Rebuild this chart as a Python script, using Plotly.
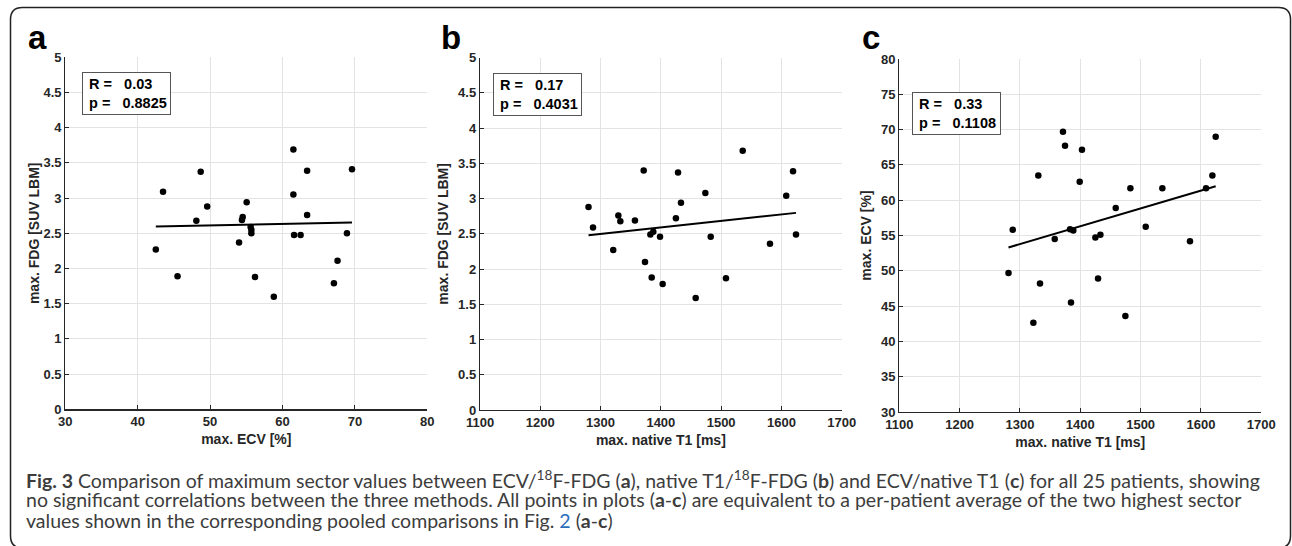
import numpy as np
import plotly.graph_objects as go

W, H = 1292, 546

# ---------------- data ----------------
ecv_a = [42.5, 43.5, 45.5, 48.7, 48.1, 49.6, 55.05, 54.5, 54.4, 54.0, 55.6, 55.7, 55.7,
         56.2, 58.8, 61.5, 61.5, 63.4, 63.4, 61.6, 62.5, 69.6, 68.9, 67.6, 67.1]
fdg_a = [2.27, 3.09, 1.89, 3.375, 2.68, 2.88, 2.94, 2.73, 2.69, 2.37, 2.59, 2.55, 2.50,
         1.88, 1.60, 3.69, 3.05, 3.39, 2.76, 2.475, 2.475, 3.41, 2.50, 2.11, 1.79]

t1_b = [1280, 1287.5, 1321, 1329.5, 1332.8, 1357, 1371.5, 1373.7, 1382.6, 1387.5, 1398.6,
        1384.8, 1403, 1428.5, 1425, 1433.4, 1457.8, 1473.8, 1482.7, 1508, 1535.8, 1581,
        1608, 1619.3, 1624.2]
fdg_b = [2.88, 2.59, 2.27, 2.76, 2.68, 2.69, 3.40, 2.10, 2.49, 2.53, 2.46, 1.88, 1.79,
         3.37, 2.72, 2.94, 1.59, 3.08, 2.46, 1.87, 3.68, 2.36, 3.04, 3.39, 2.49]

t1_c = [1281, 1288, 1330.4, 1357.6, 1371.3, 1374.7, 1383, 1388.4, 1399, 1402.8, 1425,
        1433.3, 1429.4, 1458.7, 1483, 1508.4, 1536, 1581.8, 1608.4, 1618.9, 1624.4,
        1322.2, 1333.2, 1384.6, 1474.7]
ecv_c = [49.7, 55.8, 63.5, 54.5, 69.7, 67.7, 55.9, 55.7, 62.6, 67.15, 54.7, 55.1, 48.9,
         58.9, 61.7, 56.25, 61.7, 54.2, 61.7, 63.5, 69.0, 42.65, 48.2, 45.5, 43.6]

panel_labels = ["a", "b", "c"]
stats_text = [("0.03", "0.8825"), ("0.17", "0.4031"), ("0.33", "0.1108")]
x_titles = ["max. ECV [%]", "max. native T1 [ms]", "max. native T1 [ms]"]
y_titles = ["max. FDG [SUV LBM]", "max. FDG [SUV LBM]", "max. ECV [%]"]
x_ranges = [[30, 80], [1100, 1700], [1100, 1700]]
y_ranges = [[0, 5], [0, 5], [30, 80]]
x_dticks = [10, 100, 100]
y_dticks = [0.5, 0.5, 5]

caption_lines = [
    "<b>Fig. 3</b> Comparison of maximum sector values between ECV/<sup>18</sup>F-FDG (<b>a</b>), "
    "native T1/<sup>18</sup>F-FDG (<b>b</b>) and ECV/native T1 (<b>c</b>) for all 25 patients, showing",
    "no significant correlations between the three methods. All points in plots (<b>a</b>-<b>c</b>) "
    "are equivalent to a per-patient average of the two highest sector",
    "values shown in the corresponding pooled comparisons in Fig. "
    "<span style='color:#2a6ebb'>2</span> (<b>a</b>-<b>c</b>)",
]

# ---------------- layout geometry (pixels) ----------------
plot_px = [  # x0, x1, ytop, ybottom
    (65.3, 427.3, 57.3, 409.3),
    (480.0, 841.7, 57.7, 410.0),
    (899.3, 1261.3, 59.0, 412.0),
]
box_px = [(81.7, 72.3), (493.0, 73.0), (912.0, 92.0)]
label_px = [(26, 50), (439, 50), (860, 50)]
ytitle_standoff = [0, 6, 6]

def px(x):
    return x / W

def py(y):
    return 1 - y / H

fig = go.Figure()
datasets = [(ecv_a, fdg_a), (t1_b, fdg_b), (t1_c, ecv_c)]

AX = "#262626"
GRID = "#e3e3e3"
NB = "\u00a0"

for i, (xs, ys) in enumerate(datasets):
    xa = "x" if i == 0 else f"x{i+1}"
    ya = "y" if i == 0 else f"y{i+1}"
    fig.add_trace(go.Scatter(x=xs, y=ys, mode="markers", xaxis=xa, yaxis=ya,
                             marker=dict(color="black", size=6.5), showlegend=False,
                             hoverinfo="skip"))
    k, b = np.polyfit(np.array(xs, float), np.array(ys, float), 1)
    xl = np.array([min(xs), max(xs)], float)
    fig.add_trace(go.Scatter(x=xl, y=k * xl + b, mode="lines", xaxis=xa, yaxis=ya,
                             line=dict(color="black", width=2), showlegend=False,
                             hoverinfo="skip"))
    x0, x1, yt, yb = plot_px[i]
    axis_common = dict(showgrid=True, gridcolor=GRID, gridwidth=1, zeroline=False,
                       showline=True, linecolor=AX, linewidth=1.2, ticks="inside",
                       ticklen=4, tickcolor=AX, mirror=False, automargin=False,
                       tickfont=dict(family="Liberation Sans, Arial", size=13,
                                     color=AX, weight="bold"),
                       title_font=dict(family="Liberation Sans, Arial", size=14,
                                       color=AX, weight="bold"))
    xkey = "xaxis" if i == 0 else f"xaxis{i+1}"
    ykey = "yaxis" if i == 0 else f"yaxis{i+1}"
    fig.update_layout(**{
        xkey: dict(domain=[px(x0), px(x1)], range=x_ranges[i], dtick=x_dticks[i],
                   anchor=ya, title=dict(text=x_titles[i], standoff=6), **axis_common),
        ykey: dict(domain=[py(yb), py(yt)], range=y_ranges[i], dtick=y_dticks[i],
                   anchor=xa, title=dict(text=y_titles[i], standoff=ytitle_standoff[i]),
                   **axis_common),
    })
    # stats box
    bx, by = box_px[i]
    fig.add_annotation(xref="paper", yref="paper", x=px(bx), y=py(by),
                       xanchor="left", yanchor="top", align="left", showarrow=False,
                       text=(f"{NB}R ={NB}{NB}{NB}{stats_text[i][0]}<br>"
                             f"{NB}p ={NB}{NB}{NB}{stats_text[i][1]}"),
                       width=83, height=37,
                       font=dict(family="Liberation Sans, Arial", size=14.5, color="black",
                                 weight="bold"),
                       bgcolor="white", bordercolor="#555555", borderwidth=1, borderpad=2)
    # panel label
    lx, ly = label_px[i]
    fig.add_annotation(xref="paper", yref="paper", x=px(lx), y=py(ly),
                       xanchor="left", yanchor="bottom", showarrow=False,
                       text=f"<b>{panel_labels[i]}</b>",
                       font=dict(family="Liberation Sans, Arial", size=33, color="black"),
                       yshift=-8)

# caption
cap_y = [479, 499.5, 520]
for j, line in enumerate(caption_lines):
    fig.add_annotation(xref="paper", yref="paper", x=px(24), y=py(cap_y[j]),
                       xanchor="left", yanchor="middle", showarrow=False, align="left",
                       text=line, font=dict(family="Lato", size=19.5, color="#3d3d3d"))

# frame (rounded rectangle)
L, T, R, B, r = 10.5, 7.5, 1290.5, 548.0, 12
path = (f"M {px(L)},{py(T + r)} Q {px(L)},{py(T)} {px(L + r)},{py(T)} "
        f"L {px(R - r)},{py(T)} Q {px(R)},{py(T)} {px(R)},{py(T + r)} "
        f"L {px(R)},{py(B - r)} Q {px(R)},{py(B)} {px(R - r)},{py(B)} "
        f"L {px(L + r)},{py(B)} Q {px(L)},{py(B)} {px(L)},{py(B - r)} Z")
fig.add_shape(type="path", xref="paper", yref="paper", path=path,
              line=dict(color="#222222", width=1.5), layer="above")

fig.update_layout(width=W, height=H, autosize=False,
                  margin=dict(l=0, r=0, t=0, b=0, pad=0, autoexpand=False),
                  paper_bgcolor="white", plot_bgcolor="white")

fig.write_html("out.html", config={"displayModeBar": False, "staticPlot": True},
               post_script="document.body.style.margin='0';document.body.style.overflow='hidden';")
